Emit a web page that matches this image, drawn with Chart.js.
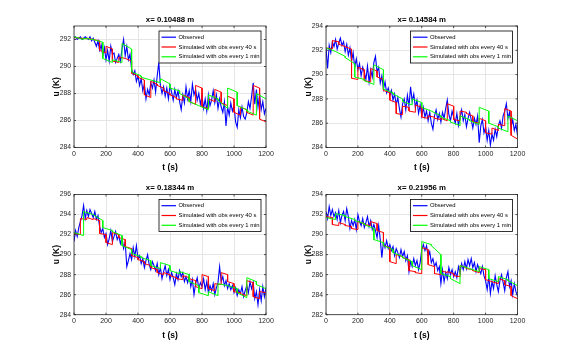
<!DOCTYPE html>
<html><head><meta charset="utf-8">
<script src="https://cdn.jsdelivr.net/npm/chart.js@4.4.1/dist/chart.umd.min.js"></script>
<style>
html,body{margin:0;padding:0;background:#fff}
#wrap{position:relative;width:572px;height:354px;background:#fff}
#wrap canvas{position:absolute}
</style></head>
<body><div id="wrap">
<canvas id="c0" width="286" height="177" style="left:0;top:0"></canvas>
<canvas id="c1" width="286" height="177" style="left:286px;top:0"></canvas>
<canvas id="c2" width="286" height="177" style="left:0;top:177px"></canvas>
<canvas id="c3" width="286" height="177" style="left:286px;top:177px"></canvas>
</div>
<script>
// ---------------- data ----------------
const OBS_STEP = 10;      // s between observed samples
const RED_STEP = 40;      // s between assimilation times (red)
const GREEN_STEP = 60;    // s between assimilation times (green)
const xTickValues = [0, 200, 400, 600, 800, 1000, 1200];
const seriesLabels = ['Observed', 'Simulated with obs every 40 s', 'Simulated with obs every 1 min'];
const titles = ['x= 0.10488 m', 'x= 0.14584 m', 'x= 0.18344 m', 'x= 0.21956 m'];
const yMins = [284, 284, 284, 282];
const yMaxs = [293, 294, 296, 294];
const xLabel = 't (s)';
const yLabel = 'u (K)';

const obs1 = [292.1,292.2,292.0,292.1,292.2,292.0,292.1,292.2,292.1,292.0,292.2,291.9,292.1,
291.8,291.5,291.9,291.2,291.6,290.8,291.4,290.5,
291.2,290.4,291.5,290.9,291.0,290.3,290.6,290.9,290.4,291.3,
292.0,290.8,291.5,290.5,290.9,289.8,
289.4,289.7,288.9,289.3,288.6,289.1,288.2,288.7,287.6,288.3,
287.9,288.8,288.4,289.0,288.1,289.3,290.3,288.6,288.0,288.5,
287.8,288.4,287.6,288.6,288.1,287.5,288.3,287.7,288.2,287.4,
286.8,287.9,287.3,288.5,287.6,288.2,287.4,288.7,287.9,288.3,
287.5,288.0,287.2,287.8,286.9,287.6,286.7,287.9,287.1,287.5,
288.2,287.3,287.9,286.9,287.6,287.0,286.6,287.4,285.6,287.0,
286.4,287.3,286.7,287.1,285.9,285.5,286.8,286.2,287.0,286.3,
286.1,286.6,287.4,286.9,287.8,288.8,287.2,288.3,287.0,287.9,
286.8,287.4,286.5,286.9];
const red1Start = [292.15,292.1,292.1,292.0,291.2,291.5,290.4,290.7,290.6,289.5,289.2,287.9,288.9,288.6,288.2,287.9,287.6,287.9,287.4,288.6,287.0,287.6,288.3,287.3,287.8,286.6,287.0,286.6,288.6,286.1];
const red1End   = [292.1,292.05,292.0,291.9,291.0,291.3,290.3,290.6,290.4,289.3,289.0,287.7,288.7,288.4,288.0,287.7,287.5,287.7,287.2,288.4,286.9,287.4,288.1,287.1,287.6,286.4,286.8,286.4,288.4,285.9];
const green1Start = [292.2,292.1,292.0,290.6,290.5,291.7,289.6,289.2,289.0,289.1,288.4,288.0,287.4,287.1,287.9,287.5,288.4,287.1,286.7,288.0];
const green1End   = [292.0,292.0,291.8,290.3,290.3,291.3,289.3,289.0,288.8,288.7,288.2,287.6,287.1,286.8,287.6,286.9,288.1,286.8,286.4,287.6];

const obs2 = [292.2,290.5,292.4,291.8,292.7,292.3,292.9,292.1,292.6,293.0,292.4,
292.7,291.9,292.5,291.6,292.2,291.1,291.8,290.6,291.3,290.4,
290.9,289.9,290.6,290.2,289.6,290.7,289.4,290.4,289.8,291.0,
291.5,290.2,290.6,289.3,289.9,288.8,289.4,288.5,288.9,288.3,
288.7,287.9,288.4,287.5,288.1,287.2,286.5,287.6,288.0,287.1,
288.3,287.4,289.0,287.8,288.4,287.3,287.9,286.8,287.5,286.6,
287.3,286.5,287.0,286.2,286.9,286.0,285.5,286.6,287.1,286.3,
286.8,286.1,286.9,286.4,287.2,287.9,286.7,286.2,287.0,286.5,
286.0,286.8,285.8,286.5,287.1,286.2,286.7,285.7,286.4,286.9,
286.3,285.6,286.4,285.9,286.6,284.4,285.8,286.3,285.2,285.7,
284.6,285.4,284.2,285.1,284.6,285.5,284.9,285.8,286.2,285.6,
286.6,287.0,287.6,286.4,286.9,285.7,286.3,285.4,285.9,285.0];
const red2Start = [292.2,292.8,292.5,292.3,289.7,290.6,289.5,290.5,289.8,288.7,287.9,286.8,287.4,287.0,287.5,286.5,286.6,286.4,286.4,287.6,286.3,287.0,286.8,286.1,286.4,285.2,285.6,285.9,287.2,285.0];
const red2End   = [292.1,292.7,292.3,292.1,289.6,290.4,289.4,290.3,289.6,288.5,287.7,286.7,287.3,286.9,287.3,286.4,286.5,286.3,286.2,287.4,286.2,286.9,286.6,286.0,286.2,285.1,285.4,285.8,287.0,284.7];
const green2Start = [292.2,291.9,291.4,289.8,289.5,290.8,288.8,288.4,287.8,288.0,287.3,287.0,286.5,286.1,286.6,286.2,287.3,286.0,285.6,286.6];
const green2End   = [291.9,291.5,290.9,289.6,289.2,290.4,288.5,288.0,287.5,287.7,287.0,286.6,286.2,285.8,286.3,285.9,287.0,285.7,285.3,286.2];

const obs3 = [291.3,292.4,291.8,292.7,293.3,293.9,294.9,293.6,294.4,293.8,294.5,
294.1,293.7,294.3,293.5,293.9,292.8,292.2,292.6,291.7,292.1,
291.0,291.6,292.4,291.3,291.8,292.3,291.5,291.9,291.1,291.7,
290.6,291.2,288.8,289.4,290.1,289.5,290.7,289.8,290.9,289.6,
289.9,289.1,289.6,288.7,289.4,290.0,289.0,288.5,289.3,288.9,
288.4,289.1,288.0,288.7,287.6,288.3,288.9,287.9,288.5,287.5,
288.2,287.7,287.0,288.1,287.5,288.4,287.8,288.2,287.3,287.8,
287.2,287.9,286.8,287.5,286.0,287.1,287.7,286.6,287.2,286.8,
287.6,286.5,287.3,286.2,286.9,286.4,287.1,286.0,286.7,287.2,
288.8,287.3,287.8,286.9,287.4,286.6,287.1,286.5,286.9,286.2,
286.7,285.9,286.5,286.1,286.8,285.8,286.4,286.9,286.2,287.3,
286.6,287.2,285.6,286.3,285.0,286.5,285.4,286.8,285.8,286.7];
const red3Start = [292.1,293.6,293.7,293.6,292.1,291.2,292.2,291.7,290.8,289.9,289.5,289.1,288.7,288.2,288.2,287.9,287.6,287.9,287.6,286.8,288.0,286.6,287.1,288.2,287.3,286.3,286.1,287.4,285.8,286.3];
const red3End   = [292.0,293.5,293.5,293.4,292.0,291.0,292.0,291.5,290.6,289.7,289.3,288.9,288.5,288.0,288.0,287.7,287.5,287.7,287.4,286.6,287.8,286.4,287.0,288.0,287.1,286.2,285.9,287.2,285.6,286.2];
const green3Start = [292.2,294.3,294.0,292.7,292.3,290.9,290.1,289.7,288.9,289.2,288.4,288.3,287.3,286.2,286.3,287.1,286.9,286.2,287.7,287.0];
const green3End   = [291.9,294.0,293.4,292.4,291.9,290.5,289.8,289.4,288.6,288.9,288.1,288.0,286.9,285.9,285.9,286.9,286.6,285.7,287.3,286.6];

const obs4 = [292.3,291.6,292.8,291.9,292.5,291.8,292.2,291.5,292.4,291.2,291.9,
292.3,291.4,292.6,291.8,290.6,291.4,290.9,291.5,290.5,292.0,
291.3,290.9,291.6,290.7,291.2,291.8,290.8,291.4,290.5,291.0,
290.4,289.7,290.9,289.5,287.7,289.3,288.7,289.4,288.6,289.0,
288.4,288.8,287.9,288.6,288.2,287.7,288.5,287.8,288.3,287.4,
287.9,286.3,287.3,286.8,287.6,286.9,287.4,286.5,287.2,288.5,
289.0,288.4,288.9,287.8,288.3,287.2,287.6,286.8,287.2,286.4,
286.8,285.1,286.5,285.3,286.2,285.6,286.7,286.0,286.5,285.8,
286.3,285.7,286.8,286.2,287.1,286.5,287.3,286.6,287.5,286.9,
287.6,286.7,287.2,286.3,287.0,286.5,286.1,286.8,285.9,285.4,
284.5,285.8,284.1,285.3,284.6,285.9,285.0,284.3,285.4,286.0,
285.2,284.4,285.7,286.3,284.8,285.4,284.0,285.1,284.3,283.9];
const red4Start = [291.8,291.0,291.2,290.9,290.6,291.3,291.0,291.3,290.4,288.9,287.3,288.0,287.7,286.4,286.2,288.7,287.0,286.1,286.4,286.3,285.9,286.9,286.6,286.4,286.6,285.5,285.3,285.6,285.0,283.9];
const red4End   = [291.7,290.9,291.0,290.8,290.5,291.1,290.9,291.1,290.2,288.7,287.1,287.8,287.5,286.3,286.1,288.5,286.8,286.0,286.2,286.1,285.8,286.7,286.5,286.2,286.5,285.3,285.1,285.4,284.8,283.6];
const green4Start = [291.7,292.1,291.8,291.4,291.0,289.5,288.9,288.2,287.7,286.9,289.3,288.9,286.1,285.6,286.9,286.6,286.8,285.6,285.8,285.4];
const green4End   = [291.5,291.9,291.5,291.1,290.6,289.2,288.5,287.8,287.3,286.5,289.0,288.0,285.8,285.1,286.6,286.3,286.5,285.3,285.5,284.9];

const panels = [
  {obs: obs1, rs: red1Start, re: red1End, gs: green1Start, ge: green1End},
  {obs: obs2, rs: red2Start, re: red2End, gs: green2Start, ge: green2End},
  {obs: obs3, rs: red3Start, re: red3End, gs: green3Start, ge: green3End},
  {obs: obs4, rs: red4Start, re: red4End, gs: green4Start, ge: green4End}
];

// ---------------- layout / style ----------------
const W = 286, H = 177;
const geom = [
  {L: 74, R: 266, T: 26, B: 147.5},
  {L: 40, R: 231.5, T: 26, B: 147.5},
  {L: 74, R: 266, T: 17.5, B: 137.7},
  {L: 40, R: 231.5, T: 17.5, B: 137.7}
];
const FONT = "'Liberation Sans', Arial, Helvetica, sans-serif";
const Y_AXIS_W = 40, X_AXIS_H = 29.5;
const colors = ['#0000ff', '#ff0000', '#00ff00'];
const LABEL_SIZE = 8.5, LABEL_LH = LABEL_SIZE * 1.2;

function obsPoints(vals) { return vals.map((v, i) => ({x: i * OBS_STEP, y: v})); }
function segPoints(starts, ends, step) {
  const pts = [];
  starts.forEach((s, k) => { pts.push({x: k * step, y: s}); pts.push({x: (k + 1) * step, y: ends[k]}); });
  return pts;
}

const decoPlugin = {
  id: 'deco',
  beforeDraw(chart) {
    const c = chart.ctx; c.save(); c.fillStyle = '#fff'; c.fillRect(0, 0, chart.width, chart.height); c.restore();
  },
  afterDraw(chart, args, opts) {
    const c = chart.ctx, a = chart.chartArea;
    const xs = chart.scales.x, ys = chart.scales.y;
    c.save();
    c.strokeStyle = '#262626'; c.lineWidth = 0.8;
    c.strokeRect(a.left, a.top, a.right - a.left, a.bottom - a.top);
    c.beginPath();
    const tl = 2;
    xs.ticks.forEach(t => {
      const px = xs.getPixelForValue(t.value);
      c.moveTo(px, a.bottom); c.lineTo(px, a.bottom - tl);
      c.moveTo(px, a.top); c.lineTo(px, a.top + tl);
    });
    ys.ticks.forEach(t => {
      const py = ys.getPixelForValue(t.value);
      c.moveTo(a.left, py); c.lineTo(a.left + tl, py);
      c.moveTo(a.right, py); c.lineTo(a.right - tl, py);
    });
    c.stroke();
    // title
    c.fillStyle = '#000'; c.font = 'bold 7.8px ' + FONT; c.textAlign = 'center'; c.textBaseline = 'middle';
    c.fillText(opts.title, (a.left + a.right) / 2, a.top - 6.5);
    // legend
    const lw = 102, lh = 32;
    const lx = a.right - 5 - lw, ly = a.top + 5;
    c.fillStyle = '#fff'; c.fillRect(lx, ly, lw, lh);
    c.strokeStyle = '#000'; c.lineWidth = 0.8; c.strokeRect(lx, ly, lw, lh);
    const maxTextW = lw - 21;
    let fs = 6.2;
    c.font = fs + 'px ' + FONT;
    const widest = Math.max(...chart.data.datasets.map(ds => c.measureText(ds.label).width));
    if (widest > maxTextW) { fs = fs * maxTextW / widest; c.font = fs + 'px ' + FONT; }
    c.textAlign = 'left'; c.textBaseline = 'middle';
    chart.data.datasets.forEach((ds, i) => {
      const yy = ly + 6.2 + i * 9.8;
      c.strokeStyle = ds.borderColor; c.lineWidth = 1.2;
      c.beginPath(); c.moveTo(lx + 2.5, yy); c.lineTo(lx + 17, yy); c.stroke();
      c.fillStyle = '#000'; c.fillText(ds.label, lx + 19.5, yy);
    });
    c.restore();
  }
};

panels.forEach((p, i) => {
  const g = geom[i];
  const datasets = [
    {label: seriesLabels[0], data: obsPoints(p.obs), borderColor: colors[0], order: 3, borderWidth: 1.1},
    {label: seriesLabels[1], data: segPoints(p.rs, p.re, RED_STEP), borderColor: colors[1], order: 2, borderWidth: 1},
    {label: seriesLabels[2], data: segPoints(p.gs, p.ge, GREEN_STEP), borderColor: colors[2], order: 1, borderWidth: 1}
  ].map(d => Object.assign(d, {pointRadius: 0, fill: false, tension: 0}));
  new Chart(document.getElementById('c' + i), {
    type: 'line',
    data: {datasets},
    plugins: [decoPlugin],
    options: {
      responsive: false, animation: false, devicePixelRatio: 1,
      layout: {padding: {left: g.L - Y_AXIS_W, right: W - g.R, top: g.T, bottom: H - g.B - X_AXIS_H}},
      plugins: {legend: {display: false}, tooltip: {enabled: false}, title: {display: false}, deco: {title: titles[i]}},
      scales: {
        x: {
          type: 'linear', min: 0, max: 1200,
          afterBuildTicks: s => { s.ticks = xTickValues.map(v => ({value: v})); },
          afterFit: s => { s.height = X_AXIS_H; },
          ticks: {padding: 2.5, maxRotation: 0, autoSkip: false, color: '#262626', font: {family: FONT, size: 7}, callback: v => String(v)},
          grid: {color: '#e0e0e0', lineWidth: 0.8, drawTicks: false},
          border: {display: false},
          title: {display: true, text: xLabel, color: '#000', font: {family: FONT, size: LABEL_SIZE, weight: 'bold'}, padding: {top: 0, bottom: 9 - LABEL_LH / 2}}
        },
        y: {
          type: 'linear', min: yMins[i], max: yMaxs[i],
          afterFit: s => { s.width = Y_AXIS_W; },
          ticks: {stepSize: 2, includeBounds: false, padding: 3, color: '#262626', font: {family: FONT, size: 6.8}, callback: v => String(v)},
          grid: {color: '#e0e0e0', lineWidth: 0.8, drawTicks: false},
          border: {display: false},
          title: {display: true, text: yLabel, color: '#000', font: {family: FONT, size: LABEL_SIZE, weight: 'bold'}, padding: {top: 23 - LABEL_LH / 2, bottom: 0}}
        }
      }
    }
  });
});
</script>
</body></html>
